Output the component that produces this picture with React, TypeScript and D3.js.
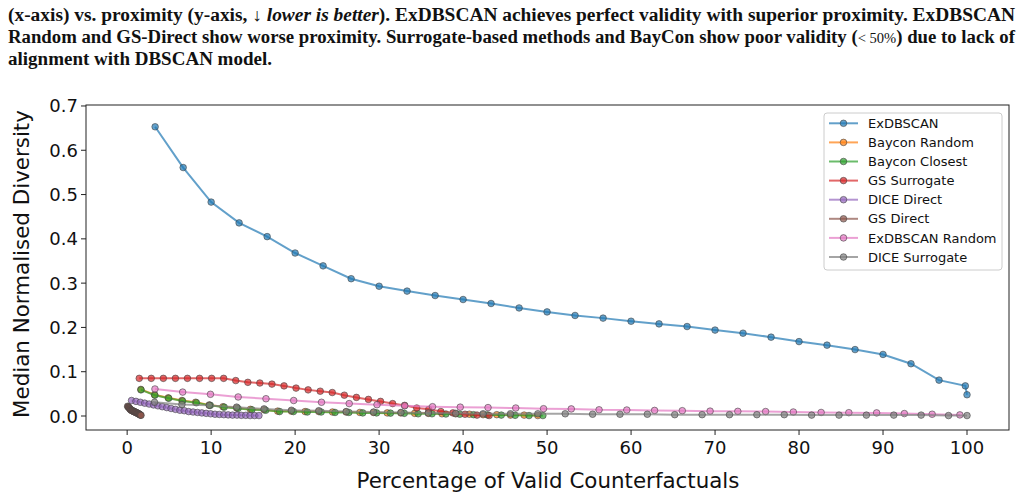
import React from 'react'
import * as d3 from 'd3'

// x = percentage of valid counterfactuals, y = median normalised diversity
const exdbscanX = [3.33, 6.67, 10, 13.33, 16.67, 20, 23.33, 26.67, 30, 33.33, 36.67, 40, 43.33, 46.67, 50, 53.33, 56.67, 60, 63.33, 66.67, 70, 73.33, 76.67, 80, 83.33, 86.67, 90, 93.33, 96.67, 99.8, 100]
const exdbscanY = [0.653, 0.561, 0.483, 0.436, 0.405, 0.368, 0.339, 0.310, 0.293, 0.282, 0.272, 0.263, 0.254, 0.244, 0.235, 0.227, 0.221, 0.214, 0.208, 0.202, 0.194, 0.187, 0.178, 0.168, 0.160, 0.150, 0.139, 0.118, 0.081, 0.068, 0.048]

const baycon_randomX = [1.63, 3.26, 4.89, 6.52, 8.15, 9.78, 11.41, 13.04, 14.67, 16.3, 17.93, 19.56, 21.19, 22.82, 24.45, 26.08, 27.71, 29.34, 30.97, 32.6, 34.23, 35.86, 37.49, 39.12, 40.75, 42.38, 44.01, 45.64, 47.27, 48.9]
const baycon_randomY = [0.060, 0.048, 0.041, 0.035, 0.031, 0.025, 0.021, 0.018, 0.015, 0.014, 0.011, 0.011, 0.010, 0.010, 0.009, 0.009, 0.008, 0.008, 0.007, 0.007, 0.006, 0.006, 0.005, 0.005, 0.004, 0.003, 0.003, 0.002, 0.002, 0.001]

const baycon_closestX = [1.65, 3.3, 4.95, 6.6, 8.25, 9.9, 11.55, 13.2, 14.85, 16.5, 18.15, 19.8, 21.45, 23.1, 24.75, 26.4, 28.05, 29.7, 31.35, 33, 34.65, 36.3, 37.95, 39.6, 41.25, 42.9, 44.55, 46.2, 47.85, 49.5]
const baycon_closestY = [0.059, 0.047, 0.040, 0.034, 0.030, 0.024, 0.020, 0.017, 0.014, 0.013, 0.010, 0.010, 0.009, 0.009, 0.008, 0.008, 0.007, 0.007, 0.0065, 0.006, 0.005, 0.005, 0.0045, 0.004, 0.003, 0.0025, 0.002, 0.0015, 0.001, 0.001]

const gs_surrogateX = [1.44, 2.87, 4.31, 5.75, 7.18, 8.62, 10.06, 11.49, 12.93, 14.37, 15.8, 17.24, 18.68, 20.11, 21.55, 22.99, 24.42, 25.86, 27.3, 28.73, 30.17, 31.61, 33.04, 34.48, 35.92, 37.35, 38.79, 40.23, 41.66, 43.1]
const gs_surrogateY = [0.085, 0.085, 0.085, 0.085, 0.085, 0.085, 0.085, 0.085, 0.080, 0.076, 0.0745, 0.072, 0.068, 0.063, 0.059, 0.056, 0.053, 0.047, 0.042, 0.0375, 0.033, 0.028, 0.024, 0.018, 0.015, 0.010, 0.007, 0.004, 0.002, 0.001]

const dice_directX = [0.52, 1.05, 1.57, 2.09, 2.62, 3.14, 3.66, 4.18, 4.71, 5.23, 5.75, 6.28, 6.8, 7.32, 7.85, 8.37, 8.89, 9.41, 9.94, 10.46, 10.98, 11.51, 12.03, 12.55, 13.08, 13.6, 14.12, 14.64, 15.17, 15.69]
const dice_directY = [0.035, 0.033, 0.031, 0.029, 0.027, 0.025, 0.023, 0.021, 0.019, 0.017, 0.015, 0.013, 0.012, 0.010, 0.009, 0.008, 0.007, 0.006, 0.005, 0.004, 0.0035, 0.003, 0.0025, 0.002, 0.002, 0.0015, 0.0015, 0.001, 0.001, 0.001]

const gs_directX = [0.055, 0.11, 0.165, 0.22, 0.275, 0.33, 0.385, 0.44, 0.495, 0.55, 0.605, 0.66, 0.715, 0.77, 0.825, 0.88, 0.935, 0.99, 1.045, 1.1, 1.155, 1.21, 1.265, 1.32, 1.375, 1.43, 1.485, 1.54, 1.595, 1.65]
const gs_directY = [0.022, 0.021, 0.020, 0.019, 0.0175, 0.016, 0.015, 0.014, 0.013, 0.0125, 0.012, 0.0115, 0.011, 0.0105, 0.010, 0.0095, 0.009, 0.0085, 0.008, 0.0075, 0.007, 0.0065, 0.006, 0.0055, 0.005, 0.004, 0.0035, 0.003, 0.002, 0.0015]

const exdbscan_randomX = [3.31, 6.61, 9.92, 13.22, 16.53, 19.83, 23.14, 26.44, 29.75, 33.05, 36.36, 39.66, 42.97, 46.27, 49.58, 52.88, 56.19, 59.49, 62.8, 66.1, 69.41, 72.71, 76.02, 79.32, 82.63, 85.93, 89.24, 92.54, 95.85, 99.15]
const exdbscan_randomY = [0.061, 0.054, 0.049, 0.043, 0.039, 0.035, 0.031, 0.028, 0.0255, 0.023, 0.021, 0.020, 0.019, 0.018, 0.0165, 0.016, 0.014, 0.0135, 0.0126, 0.012, 0.011, 0.0105, 0.010, 0.009, 0.008, 0.0075, 0.007, 0.0055, 0.004, 0.0025]

const dice_surrogateX = [3.26, 6.52, 9.78, 13.04, 16.3, 19.56, 22.82, 26.08, 29.34, 32.6, 35.86, 39.12, 42.38, 45.64, 48.9, 52.16, 55.42, 58.68, 61.94, 65.2, 68.46, 71.72, 74.98, 78.24, 81.5, 84.76, 88.02, 91.28, 94.54, 97.8, 100]
const dice_surrogateY = [0.031, 0.026, 0.024, 0.020, 0.016, 0.013, 0.012, 0.010, 0.009, 0.008, 0.007, 0.006, 0.005, 0.005, 0.005, 0.005, 0.004, 0.004, 0.004, 0.003, 0.003, 0.003, 0.003, 0.003, 0.002, 0.002, 0.002, 0.002, 0.002, 0.001, 0.001]

const seriesNames = ['ExDBSCAN', 'Baycon Random', 'Baycon Closest', 'GS Surrogate', 'DICE Direct', 'GS Direct', 'ExDBSCAN Random', 'DICE Surrogate']
const seriesColors = ['#1f77b4', '#ff7f0e', '#2ca02c', '#d62728', '#9467bd', '#8c564b', '#e377c2', '#7f7f7f']
const seriesX = [exdbscanX, baycon_randomX, baycon_closestX, gs_surrogateX, dice_directX, gs_directX, exdbscan_randomX, dice_surrogateX]
const seriesY = [exdbscanY, baycon_randomY, baycon_closestY, gs_surrogateY, dice_directY, gs_directY, exdbscan_randomY, dice_surrogateY]

const xTicks = [0, 10, 20, 30, 40, 50, 60, 70, 80, 90, 100]
const yTicks = [0.0, 0.1, 0.2, 0.3, 0.4, 0.5, 0.6, 0.7]

function App() {
    const width = 1023
    const height = 499
    const left = 86, right = 1009, top = 105, bottom = 430

    const x = d3.scaleLinear().domain([-4.9, 105]).range([left, right])
    const y = d3.scaleLinear().domain([-0.0316, 0.7022]).range([bottom, top])

    const line = d3.line<[number, number]>()
        .x(d => x(d[0]))
        .y(d => y(d[1]))

    const tickFont = 'DejaVu Sans, sans-serif'
    const capFont = 'Liberation Serif, serif'

    return (
        <svg width={width} height={height}
            style={{ position: 'absolute', left: 0, top: 0, background: '#fff' }}>
            <rect width={width} height={height} fill="#fff" />

            {/* caption */}
            <g fontFamily={capFont} fontWeight="bold" fontSize={18} fill="#111">
                <text x={8} y={21} textLength={1007} lengthAdjust="spacingAndGlyphs">
                    (x-axis) vs. proximity (y-axis, ↓ <tspan fontStyle="italic">lower is better</tspan>). ExDBSCAN achieves perfect validity with superior proximity. ExDBSCAN
                </text>
                <text x={8} y={43} textLength={1007} lengthAdjust="spacingAndGlyphs">
                    Random and GS-Direct show worse proximity. Surrogate-based methods and BayCon show poor validity (<tspan fontWeight="normal" fontSize={14}>{'< 50%'}</tspan>) due to lack of
                </text>
                <text x={8} y={65} textLength={264} lengthAdjust="spacingAndGlyphs">alignment with DBSCAN model.</text>
            </g>

            {/* series */}
            {seriesNames.map((name, i) => {
                const pts: [number, number][] = seriesX[i].map((v, j) => [v, seriesY[i][j]])
                return (
                    <g key={name}>
                        <path d={line(pts) || ''} fill="none" stroke={seriesColors[i]}
                            strokeWidth={2} strokeOpacity={0.7} />
                        {pts.map((p, j) => (
                            <circle key={j} cx={x(p[0])} cy={y(p[1])} r={3.3}
                                fill={seriesColors[i]} fillOpacity={0.7}
                                stroke="#444" strokeOpacity={0.6} strokeWidth={1} />
                        ))}
                    </g>
                )
            })}

            {/* spines */}
            <rect x={left} y={top} width={right - left} height={bottom - top}
                fill="none" stroke="#222" strokeWidth={1} />

            {/* ticks */}
            <g fontFamily={tickFont} fontSize={18} fill="#111">
                {xTicks.map(t => (
                    <g key={t}>
                        <line x1={x(t)} x2={x(t)} y1={bottom} y2={bottom + 5} stroke="#222" />
                        <text x={x(t)} y={bottom + 24} textAnchor="middle">{t}</text>
                    </g>
                ))}
                {yTicks.map(t => (
                    <g key={t}>
                        <line x1={left - 5} x2={left} y1={y(t)} y2={y(t)} stroke="#222" />
                        <text x={left - 8} y={y(t) + 6.5} textAnchor="end">{t.toFixed(1)}</text>
                    </g>
                ))}
            </g>

            <text x={548} y={488} textAnchor="middle"
                fontFamily={tickFont} fontSize={21.4} fill="#111">Percentage of Valid Counterfactuals</text>
            <text transform={`translate(29, 264) rotate(-90)`} textAnchor="middle"
                fontFamily={tickFont} fontSize={21.4} fill="#111">Median Normalised Diversity</text>

            {/* legend */}
            <g>
                <rect x={824} y={113} width={178} height={157} rx={3}
                    fill="#fff" fillOpacity={0.85} stroke="#ccc" />
                {seriesNames.map((name, i) => {
                    const cy = 123.3 + i * 19.1
                    return (
                        <g key={name}>
                            <line x1={829} x2={858} y1={cy} y2={cy} stroke={seriesColors[i]}
                                strokeWidth={2} strokeOpacity={0.7} />
                            <circle cx={843.5} cy={cy} r={3.3} fill={seriesColors[i]} fillOpacity={0.7}
                                stroke="#444" strokeOpacity={0.6} />
                            <text x={868} y={cy + 4.6} fontFamily={tickFont} fontSize={13} fill="#111">{name}</text>
                        </g>
                    )
                })}
            </g>
        </svg>
    )
}

export default App
